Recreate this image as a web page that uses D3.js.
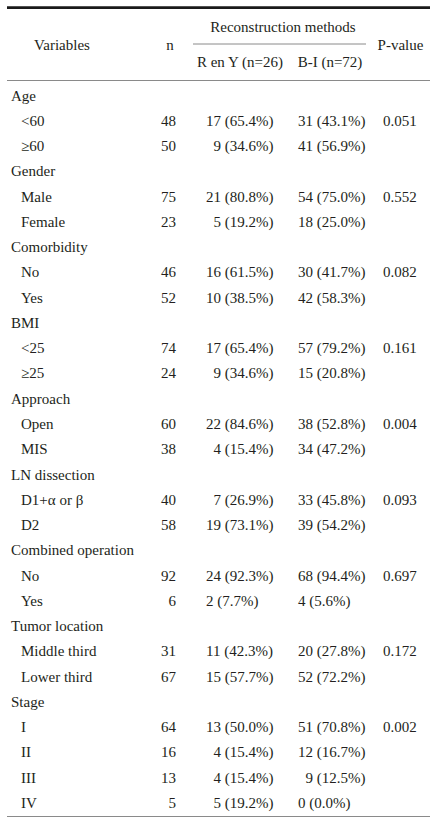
<!DOCTYPE html>
<html>
<head>
<meta charset="utf-8">
<script src="https://cdn.jsdelivr.net/npm/d3@7"></script>
<style>
  html, body { margin: 0; padding: 0; background: #fff; }
  svg text { font-family: "Liberation Serif", "Times New Roman", serif; font-size: 15px; fill: #231f20; }
</style>
</head>
<body>
<svg id="chart" width="437" height="824"></svg>
<script>
// ---- Data ----
const groups = ["Age", "Gender", "Comorbidity", "BMI", "Approach", "LN dissection", "Combined operation", "Tumor location", "Stage"];
const levels = [["<60", "≥60"], ["Male", "Female"], ["No", "Yes"], ["<25", "≥25"], ["Open", "MIS"], ["D1+α or β", "D2"], ["No", "Yes"], ["Middle third", "Lower third"], ["I", "II", "III", "IV"]];
const nValues = [[48, 50], [75, 23], [46, 52], [74, 24], [60, 38], [40, 58], [92, 6], [31, 67], [64, 16, 13, 5]];
const renYCounts = [[17, 9], [21, 5], [16, 10], [17, 9], [22, 4], [7, 19], [24, 2], [11, 15], [13, 4, 4, 5]];
const renYPct = [[65.4, 34.6], [80.8, 19.2], [61.5, 38.5], [65.4, 34.6], [84.6, 15.4], [26.9, 73.1], [92.3, 7.7], [42.3, 57.7], [50.0, 15.4, 15.4, 19.2]];
const biCounts = [[31, 41], [54, 18], [30, 42], [57, 15], [38, 34], [33, 39], [68, 4], [20, 52], [51, 12, 9, 0]];
const biPct = [[43.1, 56.9], [75.0, 25.0], [41.7, 58.3], [79.2, 20.8], [52.8, 47.2], [45.8, 54.2], [94.4, 5.6], [27.8, 72.2], [70.8, 16.7, 12.5, 0.0]];
const pValues = ["0.051", "0.552", "0.082", "0.161", "0.004", "0.093", "0.697", "0.172", "0.002"];
const headers = ["Variables", "n", "Reconstruction methods", "R en Y (n=26)", "B-I (n=72)", "P-value"];

// ---- Build rows ----
const rows = [];
groups.forEach((g, gi) => {
  rows.push({ type: "group", label: g });
  levels[gi].forEach((lv, li) => {
    rows.push({
      type: "level", label: lv, n: nValues[gi][li],
      rc: renYCounts[gi][li], rp: renYPct[gi][li],
      bc: biCounts[gi][li], bp: biPct[gi][li],
      p: li === 0 ? pValues[gi] : ""
    });
  });
});

const svg = d3.select("#chart");
const y = d3.scaleLinear().domain([0, rows.length - 1]).range([100.5, 808]);
const x = { group: 11, level: 21, n: 176, r: 206, b: 298, p: 383 };
const lineX = [7, 430];

// top rule
svg.append("line").attr("x1", lineX[0]).attr("x2", lineX[1]).attr("y1", 7.7).attr("y2", 7.7)
  .attr("stroke", "#1a1a1a").attr("stroke-width", 2.8);
// header bottom rule
svg.append("line").attr("x1", lineX[0]).attr("x2", lineX[1]).attr("y1", 80.5).attr("y2", 80.5)
  .attr("stroke", "#8a8a8a").attr("stroke-width", 1);
// spanner rule
svg.append("line").attr("x1", 193).attr("x2", 366).attr("y1", 44).attr("y2", 44)
  .attr("stroke", "#8a8a8a").attr("stroke-width", 1);
// bottom rule
svg.append("line").attr("x1", lineX[0]).attr("x2", lineX[1]).attr("y1", 816.5).attr("y2", 816.5)
  .attr("stroke", "#8a8a8a").attr("stroke-width", 1);

// headers
const hdr = [
  { t: headers[0], x: 62, y: 50, a: "middle" },
  { t: headers[1], x: 170, y: 50, a: "middle" },
  { t: headers[2], x: 283, y: 31.5, a: "middle" },
  { t: headers[3], x: 240, y: 66.5, a: "middle" },
  { t: headers[4], x: 330, y: 66.5, a: "middle" },
  { t: headers[5], x: 400.5, y: 50, a: "middle" }
];
svg.selectAll("text.hdr").data(hdr).join("text").attr("class", "hdr")
  .attr("x", d => d.x).attr("y", d => d.y).attr("text-anchor", d => d.a).text(d => d.t);

// digit width for figure alignment
const probe = svg.append("text").text("0");
const digitW = probe.node().getComputedTextLength();
probe.remove();

const fmt = (c, p) => `${c} (${p.toFixed(1)}%)`;
const pad = (c, p) => (c < 10 && p >= 10 ? digitW : 0);

const g = svg.selectAll("g.row").data(rows).join("g").attr("class", "row")
  .attr("transform", (d, i) => `translate(0,${y(i)})`);

g.append("text").attr("x", d => d.type === "group" ? x.group : x.level).text(d => d.label);
const lv = g.filter(d => d.type === "level");
lv.append("text").attr("x", x.n).attr("text-anchor", "end").text(d => d.n);
lv.append("text").attr("x", d => x.r + pad(d.rc, d.rp)).text(d => fmt(d.rc, d.rp));
lv.append("text").attr("x", d => x.b + pad(d.bc, d.bp)).text(d => fmt(d.bc, d.bp));
lv.append("text").attr("x", x.p).text(d => d.p);
</script>
</body>
</html>
